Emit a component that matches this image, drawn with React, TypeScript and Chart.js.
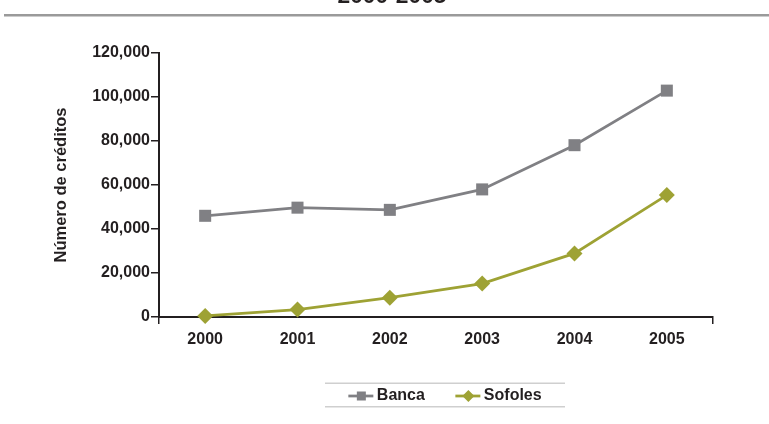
import React, { useEffect, useRef } from 'react';
import { Chart, registerables } from 'chart.js';

Chart.register(...registerables);

// ---- data ----
const years = ['2000', '2001', '2002', '2003', '2004', '2005'];
const banca = [46000, 49700, 48700, 58000, 78100, 102900];
const sofoles = [500, 3400, 8800, 15200, 28900, 55400];
const seriesNames = ['Banca', 'Sofoles'];
const yTitle = 'Número de créditos';
const chartTitle = '2000-2005';
const yMin = 0;
const yMax = 120000;
const yStep = 20000;

// ---- styles ----
const FONT = '"Liberation Sans", Arial, Helvetica, sans-serif';
const DARK = '#231f20';
const GRAY = '#808084';
const OLIVE = '#9ea234';

const headerPlugin = {
  id: 'header',
  afterDraw(chart: any) {
    const ctx = chart.ctx;
    ctx.save();
    ctx.font = `bold 22.8px ${FONT}`;
    ctx.fillStyle = DARK;
    ctx.textAlign = 'center';
    ctx.textBaseline = 'alphabetic';
    ctx.fillText(chartTitle, 392, 2.5);
    ctx.strokeStyle = '#9a9a9a';
    ctx.lineWidth = 2.5;
    ctx.beginPath();
    ctx.moveTo(4, 15.3);
    ctx.lineTo(chart.width, 15.3);
    ctx.stroke();
    ctx.restore();
  },
};

const legendPlugin = {
  id: 'customLegend',
  afterDraw(chart: any) {
    const ctx = chart.ctx;
    ctx.save();
    ctx.strokeStyle = '#cfcfcf';
    ctx.lineWidth = 1.5;
    ctx.beginPath();
    ctx.moveTo(325, 383.3);
    ctx.lineTo(565, 383.3);
    ctx.moveTo(325, 406.7);
    ctx.lineTo(565, 406.7);
    ctx.stroke();

    ctx.font = `bold 16px ${FONT}`;
    ctx.textBaseline = 'middle';
    ctx.textAlign = 'left';
    const cy = 396;
    const lineLen = 25;
    const gapText = 3.5;
    const gapItem = 30.5;
    const datasets = chart.data.datasets;
    let total = 0;
    datasets.forEach((ds: any, i: number) => {
      total += lineLen + gapText + ctx.measureText(ds.label).width;
      if (i < datasets.length - 1) total += gapItem;
    });
    let x = 445 - total / 2;
    datasets.forEach((ds: any) => {
      const color = ds.borderColor;
      ctx.strokeStyle = color;
      ctx.fillStyle = color;
      ctx.lineWidth = 2.75;
      ctx.beginPath();
      ctx.moveTo(x, cy);
      ctx.lineTo(x + lineLen, cy);
      ctx.stroke();
      const mx = x + 13;
      if (ds.pointStyle === 'rect') {
        ctx.fillRect(mx - 4.5, cy - 4.5, 9, 9);
      } else {
        const h = 6;
        ctx.beginPath();
        ctx.moveTo(mx - h, cy);
        ctx.lineTo(mx, cy - h);
        ctx.lineTo(mx + h, cy);
        ctx.lineTo(mx, cy + h);
        ctx.closePath();
        ctx.fill();
      }
      ctx.fillStyle = DARK;
      const tx = x + lineLen + gapText;
      ctx.fillText(ds.label, tx, cy);
      x = tx + ctx.measureText(ds.label).width + gapItem;
    });
    ctx.restore();
  },
};

export default function App() {
  const ref = useRef<HTMLCanvasElement | null>(null);

  useEffect(() => {
    if (!ref.current) return;
    const tickFont = { family: FONT, size: 16, weight: 'bold' as const };
    const chart = new Chart(ref.current, {
      type: 'line',
      data: {
        labels: years,
        datasets: [
          {
            label: seriesNames[0],
            data: banca,
            borderColor: GRAY,
            backgroundColor: GRAY,
            pointBackgroundColor: GRAY,
            pointBorderColor: GRAY,
            pointBorderWidth: 0,
            pointStyle: 'rect',
            pointRadius: 8.5,
            borderWidth: 2.75,
            tension: 0,
            clip: false as any,
          },
          {
            label: seriesNames[1],
            data: sofoles,
            borderColor: OLIVE,
            backgroundColor: OLIVE,
            pointBackgroundColor: OLIVE,
            pointBorderColor: OLIVE,
            pointBorderWidth: 0,
            pointStyle: 'rectRot',
            pointRadius: 8,
            borderWidth: 2.75,
            tension: 0,
            clip: false as any,
          },
        ],
      },
      options: {
        animation: false,
        responsive: false,
        maintainAspectRatio: false,
        layout: { padding: { left: 48, top: 53, right: 56, bottom: 67 } },
        plugins: {
          legend: { display: false },
          title: { display: false },
          tooltip: { enabled: false },
        },
        scales: {
          x: {
            offset: true,
            ticks: { color: DARK, font: tickFont, padding: 6, maxRotation: 0, autoSkip: false },
            grid: {
              display: true,
              offset: true,
              drawOnChartArea: false,
              drawTicks: true,
              tickLength: 7,
              lineWidth: 1.5,
              color: (c: any) => (c.type !== 'tick' || c.index === 0 ? DARK : 'rgba(0,0,0,0)'),
            },
            border: { display: true, color: DARK, width: 2 },
            afterFit: (s: any) => {
              s.height = 40;
            },
          },
          y: {
            min: yMin,
            max: yMax,
            ticks: {
              stepSize: yStep,
              color: DARK,
              font: tickFont,
              padding: 1,
              callback: (v: any) => Number(v).toLocaleString('en-US'),
            },
            grid: {
              display: true,
              drawOnChartArea: false,
              drawTicks: true,
              tickLength: 8,
              lineWidth: 1.5,
              color: DARK,
            },
            border: { display: true, color: DARK, width: 2 },
            title: {
              display: true,
              text: yTitle,
              color: DARK,
              font: { family: FONT, size: 16.5, weight: 'bold' },
              padding: { top: 4, bottom: 4 },
            },
            afterFit: (s: any) => {
              s.width = 111;
            },
          },
        },
      },
      plugins: [headerPlugin, legendPlugin],
    });
    return () => chart.destroy();
  }, []);

  return (
    <div style={{ position: 'fixed', left: 0, top: 0, width: 769, height: 424, background: '#fff' }}>
      <canvas ref={ref} width={769} height={424} style={{ width: 769, height: 424, display: 'block' }} />
    </div>
  );
}
